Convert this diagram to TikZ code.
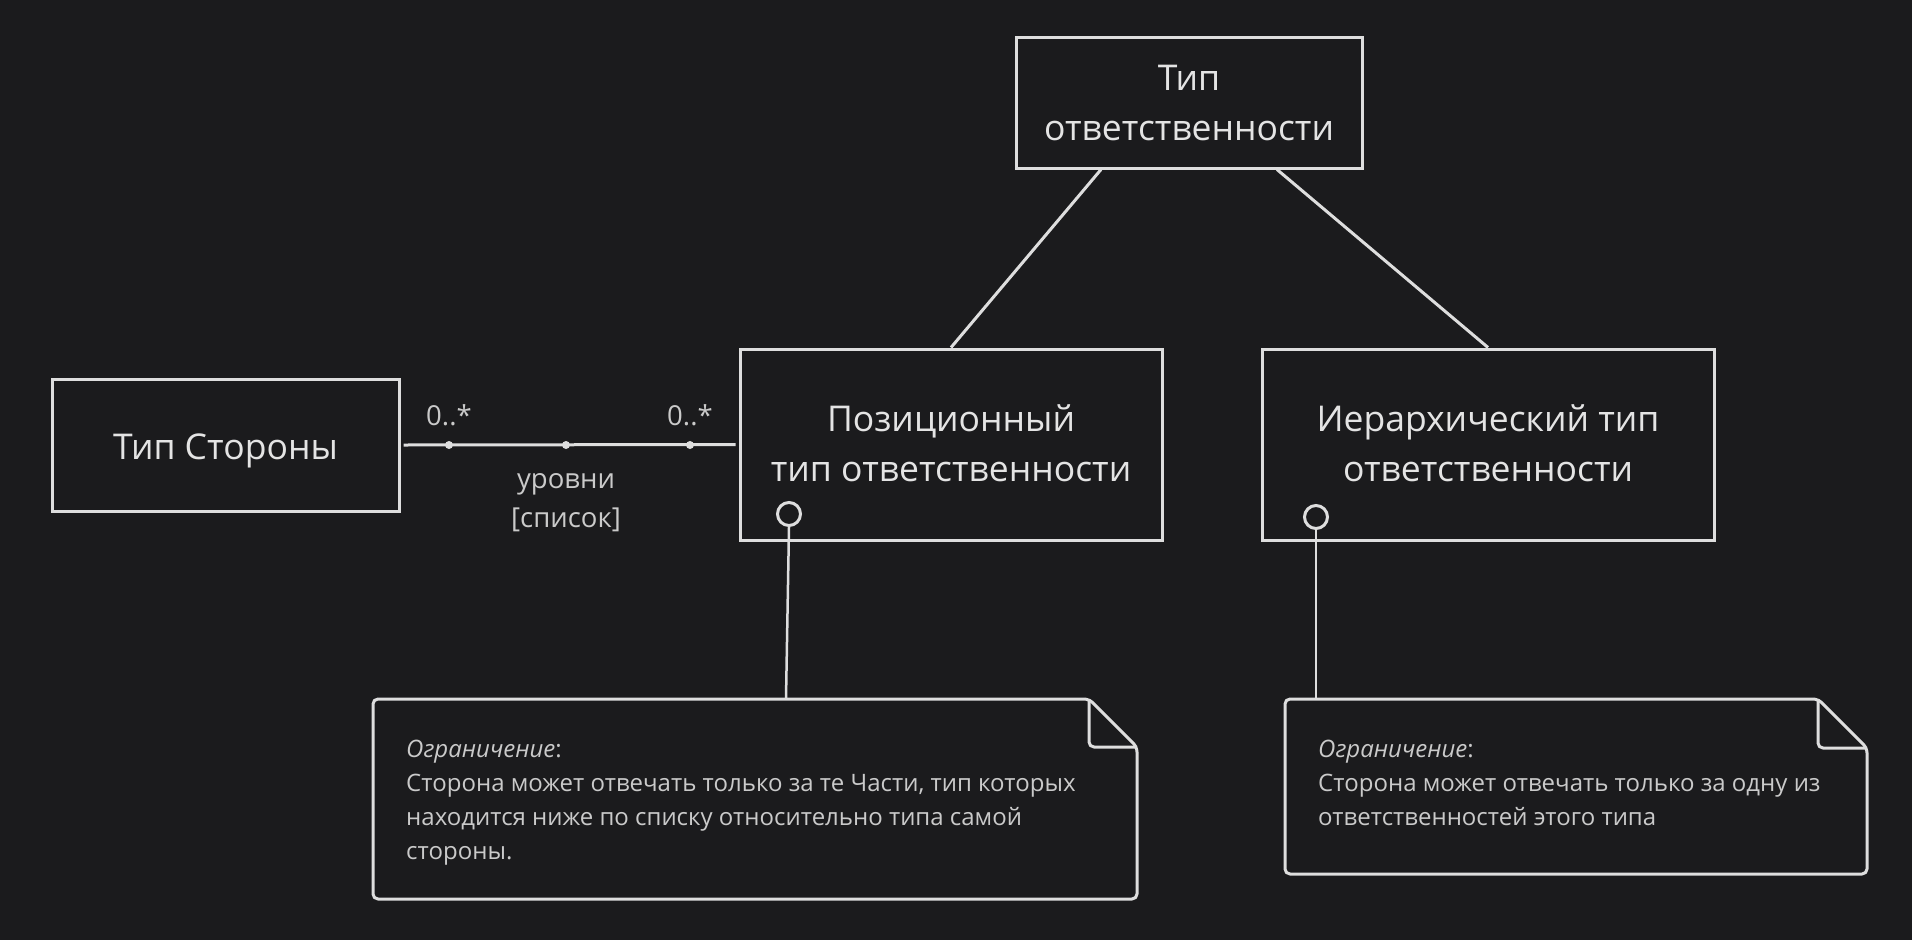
\documentclass[tikz,border=0pt]{standalone}
\usepackage{fontspec}
\setmainfont{Open Sans}
\usetikzlibrary{positioning}
\definecolor{bg}{HTML}{1B1B1D}
\definecolor{ln}{HTML}{DEDEDE}
\definecolor{tx}{HTML}{E4E4E4}
\definecolor{nt}{HTML}{CACACA}
\tikzset{
  cls/.style={draw=ln, line width=3pt, fill=bg, text=tx, align=center, inner sep=0pt,
    font=\fontsize{35.5}{50}\selectfont},
  conn/.style={draw=ln, line width=3pt},
  thin/.style={draw=ln, line width=2.5pt},
  lbl/.style={text=nt, font=\fontsize{27.5}{39}\selectfont, align=center, inner sep=0pt},
  ntext/.style={text=nt, font=\fontsize{24}{34}\selectfont, align=left, inner sep=0pt, anchor=north west},
  ball/.style={circle, draw=ln, line width=3pt, fill=bg, minimum size=23pt, inner sep=0pt},
  dotm/.style={circle, fill=ln, minimum size=8pt, inner sep=0pt},
  notebox/.style={draw=ln, line width=3pt, fill=bg, rounded corners=5pt, line join=round}
}
\begin{document}
\begin{tikzpicture}[x=1pt,y=-1pt]
\fill[bg] (0,0) rectangle (1912,940);
\useasboundingbox (0,0) rectangle (1912,940);

% class boxes
\node[cls, minimum width=346pt, minimum height=131pt] (top) at (1189,102.5) {Тип\\ответственности};
\node[cls, minimum width=347pt, minimum height=132pt] (side) at (225.5,445) {\raisebox{-6pt}[\height][\depth]{Тип Стороны}};
\node[cls, minimum width=422pt, minimum height=191pt] (pos) at (951,444.5) {\raisebox{-2pt}[\height][\depth]{\begin{tabular}{@{}c@{}}Позиционный\\тип ответственности\end{tabular}}};
\node[cls, minimum width=452pt, minimum height=191pt] (hier) at (1488,444.5) {\raisebox{-2pt}[\height][\depth]{\begin{tabular}{@{}c@{}}Иерархический тип\\ответственности\end{tabular}}};

% generalization lines
\draw[conn] ([xshift=-88pt]top.south) -- (pos.north);
\draw[conn] ([xshift=88pt]top.south) -- (hier.north);

% association
\draw[conn] ([xshift=3pt]side.east) -- ([xshift=-3pt]pos.west);
\node[dotm] (d1) at (449,445) {};
\node[dotm] (d2) at (566,445) {};
\node[dotm] (d3) at (690,445) {};
\node[lbl, above=15pt of d1] (m1) {0..*};
\node[lbl, above=15pt of d3] (m2) {0..*};
\node[lbl, below=24pt of d2] (rl) {уровни\\{}{[}список{]}};

% notes
\draw[notebox] (373,699) -- (1089,699) -- (1137,747) -- (1137,899) -- (373,899) -- cycle;
\draw[draw=ln, line width=3pt, rounded corners=5pt, line join=round] (1089,699) -- (1089,747) -- (1137,747);
\node[ntext] (n1) at (406,740) {\textit{Ограничение}:\\Сторона может отвечать только за те Части, тип которых\\находится ниже по списку относительно типа самой\\стороны.};

\draw[notebox] (1285,699) -- (1818,699) -- (1867,748) -- (1867,874) -- (1285,874) -- cycle;
\draw[draw=ln, line width=3pt, rounded corners=5pt, line join=round] (1818,699) -- (1818,748) -- (1867,748);
\node[ntext] (n2) at (1318,740) {\textit{Ограничение}:\\Сторона может отвечать только за одну из\\ответственностей этого типа};

% anchors
\coordinate (c1) at (786,699);
\coordinate (c2) at (1316,699);
\node[ball] (b1) at (789,514) {};
\node[ball] (b2) at (1316,517) {};
\draw[thin] (b1.south) -- (c1);
\draw[thin] (b2.south) -- (c2);
\end{tikzpicture}
\end{document}
